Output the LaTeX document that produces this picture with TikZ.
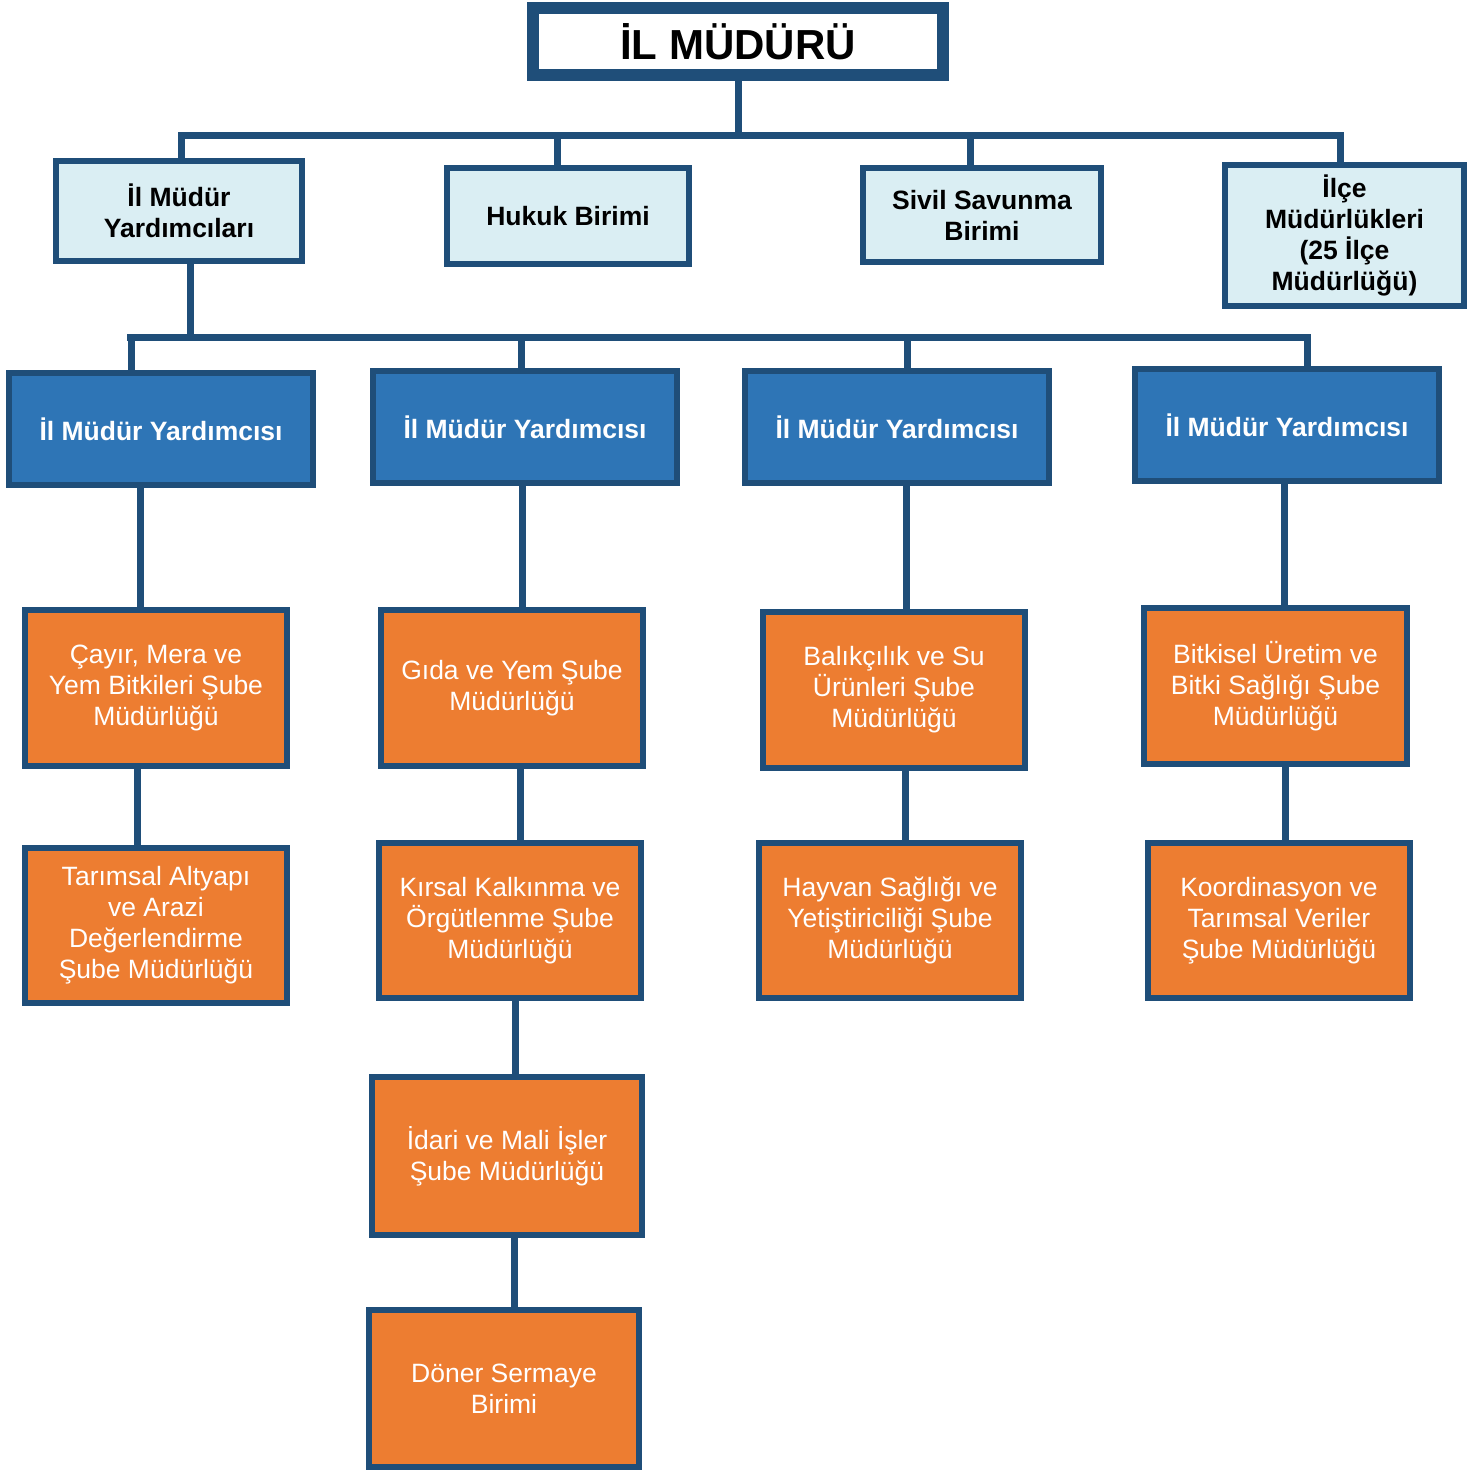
\documentclass[tikz,border=0pt]{standalone}
\usepackage{fontspec}
\setmainfont{Liberation Sans}
\definecolor{dkb}{HTML}{1F4E79}
\definecolor{lightb}{HTML}{DAEEF3}
\definecolor{midb}{HTML}{2E75B6}
\definecolor{orng}{HTML}{ED7D31}
\begin{document}
\begin{tikzpicture}[x=1pt,y=-1pt,
  box/.style={draw=dkb, line width=6pt, rectangle, inner sep=0pt, align=center,
    font=\fontsize{26.5}{31}\selectfont},
  lbox/.style={box, fill=lightb, text=black, font=\fontsize{26.5}{31}\selectfont\bfseries},
  bbox/.style={box, fill=midb, text=white, font=\fontsize{26.5}{31}\selectfont\bfseries},
  obox/.style={box, fill=orng, text=white},
  conn/.style={draw=dkb, line width=7pt}]
\useasboundingbox (0,0) rectangle (1483,1470);
% connectors first (under nodes)
\coordinate (b1a) at (178,135);
\coordinate (b1b) at (1344,135);
\coordinate (b2a) at (127,337);
\coordinate (b2b) at (1311,337);

% nodes
\node[box, fill=white, line width=12pt, minimum width=410pt, minimum height=67pt,
  font=\fontsize{42}{48}\selectfont\bfseries] (top) at (738,41.5) {İL MÜDÜRÜ};

\node[lbox, minimum width=246pt, minimum height=100pt] (y1) at (179,211) {İl Müdür\\Yardımcıları};
\node[lbox, minimum width=242pt, minimum height=96pt] (hk) at (568,216) {Hukuk Birimi};
\node[lbox, minimum width=238pt, minimum height=94pt] (sv) at (982,215) {Sivil Savunma\\Birimi};
\node[lbox, minimum width=239pt, minimum height=141pt] (il) at (1344.5,235.5) {İlçe\\Müdürlükleri\\(25 İlçe\\Müdürlüğü)};

\node[bbox, minimum width=304pt, minimum height=112pt] (m1) at (161,429) {İl Müdür Yardımcısı};
\node[bbox, minimum width=304pt, minimum height=112pt] (m2) at (525,427) {İl Müdür Yardımcısı};
\node[bbox, minimum width=304pt, minimum height=112pt] (m3) at (897,427) {İl Müdür Yardımcısı};
\node[bbox, minimum width=304pt, minimum height=112pt] (m4) at (1287,425) {İl Müdür Yardımcısı};

\node[obox, minimum width=262pt, minimum height=156pt] (o1) at (156,688) {Çayır, Mera ve\\Yem Bitkileri Şube\\Müdürlüğü};
\node[obox, minimum width=262pt, minimum height=156pt] (o2) at (512,688) {Gıda ve Yem Şube\\Müdürlüğü};
\node[obox, minimum width=262pt, minimum height=156pt] (o3) at (894,690) {Balıkçılık ve Su\\Ürünleri Şube\\Müdürlüğü};
\node[obox, minimum width=263pt, minimum height=156pt] (o4) at (1275.5,686) {Bitkisel Üretim ve\\Bitki Sağlığı Şube\\Müdürlüğü};

\node[obox, minimum width=262pt, minimum height=155pt] (p1) at (156,925.5) {Tarımsal Altyapı\\ve Arazi\\Değerlendirme\\Şube Müdürlüğü};
\node[obox, minimum width=262pt, minimum height=155pt] (p2) at (510,920.5) {Kırsal Kalkınma ve\\Örgütlenme Şube\\Müdürlüğü};
\node[obox, minimum width=262pt, minimum height=155pt] (p3) at (890,920.5) {Hayvan Sağlığı ve\\Yetiştiriciliği Şube\\Müdürlüğü};
\node[obox, minimum width=262pt, minimum height=155pt] (p4) at (1279,920.5) {Koordinasyon ve\\Tarımsal Veriler\\Şube Müdürlüğü};

\node[obox, minimum width=270pt, minimum height=158pt] (q1) at (507,1156) {İdari ve Mali İşler\\Şube Müdürlüğü};
\node[obox, minimum width=270pt, minimum height=157pt] (q2) at (504,1388.5) {Döner Sermaye\\Birimi};

% connectors
\draw[conn] (top.south) -- (top.south |- b1a);
\draw[conn] (b1a) -- (b1b);
\draw[conn] ({181,0} |- b1a) -- ({181,0} |- y1.north);
\draw[conn] ({557,0} |- b1a) -- ({557,0} |- hk.north);
\draw[conn] ({970,0} |- b1a) -- ({970,0} |- sv.north);
\draw[conn] ({1340,0} |- b1a) -- ({1340,0} |- il.north);

\draw[conn] ({190,0} |- y1.south) -- ({190,0} |- b2a);
\draw[conn] (b2a) -- (b2b);
\draw[conn] ({131,0} |- b2a) -- ({131,0} |- m1.north);
\draw[conn] ({521,0} |- b2a) -- ({521,0} |- m2.north);
\draw[conn] ({907,0} |- b2a) -- ({907,0} |- m3.north);
\draw[conn] ({1307,0} |- b2a) -- ({1307,0} |- m4.north);

\draw[conn] ({140,0} |- m1.south) -- ({140,0} |- o1.north);
\draw[conn] ({522,0} |- m2.south) -- ({522,0} |- o2.north);
\draw[conn] ({906,0} |- m3.south) -- ({906,0} |- o3.north);
\draw[conn] ({1284,0} |- m4.south) -- ({1284,0} |- o4.north);

\draw[conn] ({137,0} |- o1.south) -- ({137,0} |- p1.north);
\draw[conn] ({520,0} |- o2.south) -- ({520,0} |- p2.north);
\draw[conn] ({905,0} |- o3.south) -- ({905,0} |- p3.north);
\draw[conn] ({1285,0} |- o4.south) -- ({1285,0} |- p4.north);

\draw[conn] ({515,0} |- p2.south) -- ({515,0} |- q1.north);
\draw[conn] ({514,0} |- q1.south) -- ({514,0} |- q2.north);
\end{tikzpicture}
\end{document}
